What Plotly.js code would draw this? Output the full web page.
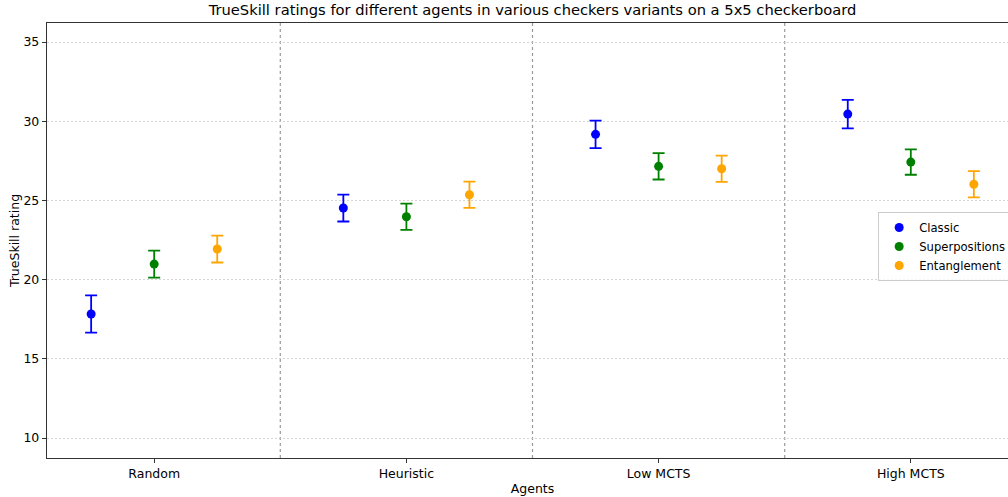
<!DOCTYPE html>
<html>
<head>
<meta charset="utf-8">
<script src="https://cdn.plot.ly/plotly-3.0.1.min.js"></script>
<style>
html,body{margin:0;padding:0;overflow:hidden;background:#fff;width:1008px;height:497px;}
#chart{width:1030px;height:497px;}
</style>
</head>
<body>
<div id="chart"></div>
<script>
const agents = ["Random", "Heuristic", "Low MCTS", "High MCTS"];
const variants = ["Classic", "Superpositions", "Entanglement"];
const colors = ["blue", "green", "orange"];
const classicMean = [17.83, 24.52, 29.17, 30.45];
const classicErr = [1.17, 0.85, 0.87, 0.9];
const superMean = [20.98, 23.97, 27.15, 27.42];
const superErr = [0.85, 0.83, 0.83, 0.8];
const entMean = [21.93, 25.36, 27.0, 26.02];
const entErr = [0.85, 0.83, 0.83, 0.83];
const offsets = [-0.25, 0, 0.25];

const means = [classicMean, superMean, entMean];
const errs = [classicErr, superErr, entErr];

const traces = variants.map((v, i) => ({
  type: "scatter",
  mode: "markers",
  name: v,
  x: agents.map((a, j) => j + offsets[i]),
  y: means[i],
  marker: {color: colors[i], size: 9},
  error_y: {type: "data", array: errs[i], visible: true, color: colors[i], thickness: 1.8, width: 6},
  cliponaxis: false
}));

const shapes = [0.5, 1.5, 2.5].map(xv => ({
  type: "line", xref: "x", yref: "paper", x0: xv, x1: xv, y0: 0, y1: 1,
  line: {color: "#999999", width: 1.2, dash: "dot"}, layer: "below"
}));

const layout = {
  width: 1030, height: 497,
  margin: {l: 47, r: 12, t: 23, b: 39},
  paper_bgcolor: "white", plot_bgcolor: "white",
  font: {family: "DejaVu Sans", size: 12.5, color: "#000"},
  title: {text: "TrueSkill ratings for different agents in various checkers variants on a 5x5 checkerboard",
          font: {size: 14.7, family: "DejaVu Sans"}, x: 0.5, xref: "paper", xanchor: "center", y: 0.99, yref: "container", yanchor: "top"},
  xaxis: {
    range: [-0.425, 3.425], tickmode: "array", tickvals: [0, 1, 2, 3], ticktext: agents,
    showgrid: false, zeroline: false, showline: true, linecolor: "#333", linewidth: 1.2, mirror: true,
    ticks: "outside", ticklen: 4, tickcolor: "#333",
    title: {text: "Agents", font: {size: 12.5}, standoff: 4}
  },
  yaxis: {
    range: [8.74, 36.2], tickvals: [10, 15, 20, 25, 30, 35],
    showgrid: true, gridcolor: "#cccccc", griddash: "2px,2px", gridwidth: 0.8, zeroline: false,
    showline: true, linecolor: "#333", linewidth: 1.2, mirror: true,
    ticks: "outside", ticklen: 4, tickcolor: "#333",
    title: {text: "TrueSkill rating", font: {size: 12.5}, standoff: 1}
  },
  shapes: shapes,
  showlegend: true,
  legend: {x: 0.856, y: 0.5655, xanchor: "left", yanchor: "top", bgcolor: "rgba(255,255,255,0.8)",
           bordercolor: "#cccccc", borderwidth: 1, font: {size: 11.6}, tracegroupgap: 0, itemwidth: 30}
};

Plotly.newPlot("chart", traces, layout, {displayModeBar: false, staticPlot: true});
</script>
</body>
</html>
